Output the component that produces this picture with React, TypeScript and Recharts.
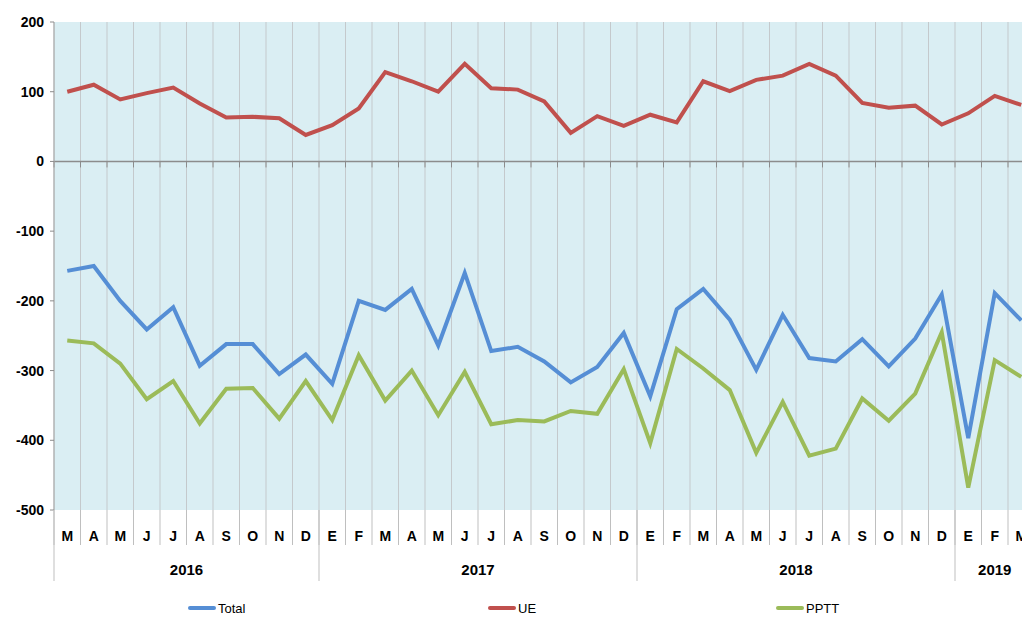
import React from 'react';
import { LineChart, Line, XAxis, YAxis, CartesianGrid, ReferenceLine, Legend } from 'recharts';

// month initials (Spanish), Mar 2016 .. Mar 2019
const months = [
  'M', 'A', 'M', 'J', 'J', 'A', 'S', 'O', 'N', 'D',
  'E', 'F', 'M', 'A', 'M', 'J', 'J', 'A', 'S', 'O', 'N', 'D',
  'E', 'F', 'M', 'A', 'M', 'J', 'J', 'A', 'S', 'O', 'N', 'D',
  'E', 'F', 'M',
];
const years = ['2016', '2017', '2018', '2019'];
const monthsPerYear = [10, 12, 12, 3];

const total = [
  -157, -150, -200, -241, -209, -293, -262, -262, -305, -277,
  -319, -200, -213, -183, -264, -160, -272, -266, -287, -317, -295, -246,
  -337, -212, -183, -227, -299, -220, -282, -287, -255, -294, -254, -191,
  -397, -189, -228,
];
const ue = [
  100, 110, 89, 98, 106, 83, 63, 64, 62, 38,
  52, 76, 128, 115, 100, 140, 105, 103, 86, 41, 65, 51,
  67, 56, 115, 101, 117, 123, 140, 123, 84, 77, 80, 53,
  69, 94, 81,
];
const pptt = [
  -257, -261, -290, -341, -315, -376, -326, -325, -369, -315,
  -371, -278, -343, -300, -364, -302, -377, -371, -373, -358, -362, -298,
  -404, -269, -297, -328, -418, -345, -422, -412, -340, -372, -333, -245,
  -468, -285, -309,
];
const yTicks = [-500, -400, -300, -200, -100, 0, 100, 200];
const seriesOrder = ['Total', 'UE', 'PPTT'];

const yearOfPoint = years.flatMap((y, i) => Array(monthsPerYear[i]).fill(y));
const data = months.map((m, i) => ({
  month: m,
  year: yearOfPoint[i],
  Total: total[i],
  UE: ue[i],
  PPTT: pptt[i],
}));

// year group starts
const yearStarts: Record<number, number> = {};
let acc = 0;
monthsPerYear.forEach(n => {
  yearStarts[acc] = n;
  acc += n;
});

const W = 1040;
const H = 617;
const PLOT_LEFT = 54;
const PLOT_RIGHT = 1034.5;
const PLOT_TOP = 22;
const PLOT_BOTTOM = 510;
const MONTH_H = 35;
const YEAR_H = 40;
const LEGEND_H = 20;
const BAND = (PLOT_RIGHT - PLOT_LEFT) / months.length;
const PAD = { left: BAND / 2, right: BAND / 2 };
const SEP = '#BFBFBF';
const FONT = '"Liberation Sans", Arial, sans-serif';

const MonthTick = (props: any) => {
  const { x, payload } = props;
  const left = x - BAND / 2;
  return (
    <g>
      <line x1={left} x2={left} y1={PLOT_BOTTOM} y2={PLOT_BOTTOM + MONTH_H} stroke={SEP} />
      <text
        x={x}
        y={PLOT_BOTTOM + 31}
        textAnchor="middle"
        fontFamily={FONT}
        fontWeight="bold"
        fontSize={14}
        fill="#000"
      >
        {payload.value}
      </text>
    </g>
  );
};

const YearTick = (props: any) => {
  const { x, index } = props;
  const count = yearStarts[index];
  if (count === undefined) return <g />;
  const left = x - BAND / 2;
  const top = PLOT_BOTTOM + MONTH_H;
  return (
    <g>
      <line x1={left} x2={left} y1={PLOT_BOTTOM} y2={top + 36} stroke={SEP} />
      <text
        x={left + (count * BAND) / 2}
        y={top + 30}
        textAnchor="middle"
        fontFamily={FONT}
        fontWeight="bold"
        fontSize={15}
        fill="#000"
      >
        {props.payload.value}
      </text>
    </g>
  );
};

const ZeroLine = (props: any) => {
  const { x1, x2, y1 } = props;
  const ticks = [];
  for (let i = 0; i <= months.length; i++) {
    const tx = x1 + i * BAND;
    ticks.push(<line key={i} x1={tx} x2={tx} y1={y1} y2={y1 + 6} stroke="#8C8C8C" />);
  }
  return (
    <g>
      <line x1={x1} x2={x2} y1={y1} y2={y1} stroke="#8C8C8C" strokeWidth={1.5} />
      {ticks}
    </g>
  );
};

const legendLeft = [188, 488, 776];

const LegendContent = (props: any) => {
  const items = [...(props.payload || [])].sort(
    (a: any, b: any) => seriesOrder.indexOf(a.value) - seriesOrder.indexOf(b.value)
  );
  return (
    <div style={{ position: 'relative', width: 1022, height: LEGEND_H }}>
      {items.map((p: any, i: number) => (
        <div
          key={p.value}
          style={{
            position: 'absolute',
            left: legendLeft[i],
            top: 0,
            height: LEGEND_H,
            display: 'flex',
            alignItems: 'center',
            fontFamily: FONT,
            fontSize: 13,
            color: '#000',
          }}
        >
          <span
            style={{
              display: 'inline-block',
              width: 28,
              height: 4,
              borderRadius: 2,
              background: p.color,
              marginRight: 2,
            }}
          />
          {p.value}
        </div>
      ))}
    </div>
  );
};

export default function App() {
  return (
    <div
      style={{
        position: 'fixed',
        left: 0,
        top: 0,
        width: 1022,
        height: 617,
        overflow: 'hidden',
        background: '#fff',
      }}
    >
      <LineChart
        width={W}
        height={H}
        data={data}
        margin={{
          top: PLOT_TOP,
          right: W - PLOT_RIGHT,
          left: 0,
          bottom: H - PLOT_BOTTOM - MONTH_H - YEAR_H - LEGEND_H,
        }}
      >
        <CartesianGrid
          horizontal={false}
          stroke="#C4C9CC"
          fill="#DAEEF3"
          fillOpacity={1}
          verticalCoordinatesGenerator={({ offset }: any) =>
            Array.from({ length: months.length + 1 }, (_, i) => offset.left + (i * offset.width) / months.length)
          }
        />
        <XAxis
          dataKey="month"
          interval={0}
          padding={PAD}
          axisLine={false}
          tickLine={false}
          height={MONTH_H}
          tick={<MonthTick />}
        />
        <XAxis
          xAxisId="year"
          dataKey="year"
          interval={0}
          padding={PAD}
          axisLine={false}
          tickLine={false}
          height={YEAR_H}
          tick={<YearTick />}
        />
        <YAxis
          domain={[-500, 200]}
          ticks={yTicks}
          interval={0}
          width={PLOT_LEFT}
          axisLine={{ stroke: '#A6A6A6' }}
          tickLine={{ stroke: '#8C8C8C' }}
          tickSize={4}
          tickMargin={6}
          tick={{ fill: '#000', fontSize: 14, fontWeight: 'bold', fontFamily: FONT }}
        />
        <ReferenceLine y={0} shape={<ZeroLine />} />
        <Legend
          verticalAlign="bottom"
          height={LEGEND_H}
          content={<LegendContent />}
          wrapperStyle={{ top: 598, left: 0, bottom: 'auto' }}
        />
        <Line dataKey="Total" stroke="#558ED5" strokeWidth={4} dot={false} isAnimationActive={false} />
        <Line dataKey="UE" stroke="#C0504D" strokeWidth={4} dot={false} isAnimationActive={false} />
        <Line dataKey="PPTT" stroke="#9BBB59" strokeWidth={4} dot={false} isAnimationActive={false} />
      </LineChart>
    </div>
  );
}
